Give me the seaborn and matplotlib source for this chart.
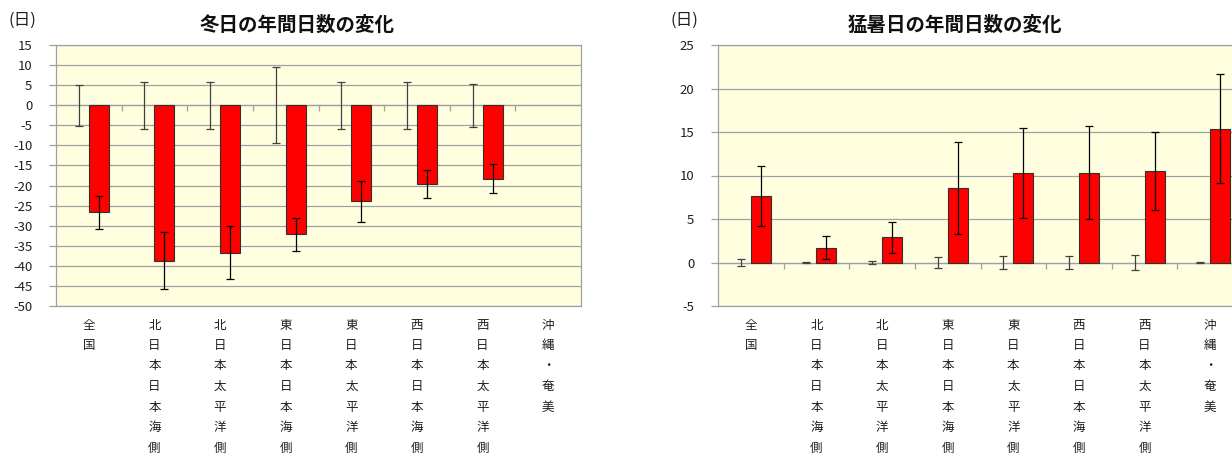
import numpy as np
import pandas as pd
import matplotlib
matplotlib.use("Agg")
import matplotlib.pyplot as plt
import seaborn as sns

# 地域区分
regions = ["全国", "北日本日本海側", "北日本太平洋側", "東日本日本海側",
           "東日本太平洋側", "西日本日本海側", "西日本太平洋側", "沖縄・奄美"]
series_names = ["年々変動", "将来変化"]

# 冬日の年間日数の変化（日）
winter_change = [-26.7, -38.7, -36.7, -32.1, -23.9, -19.6, -18.3, np.nan]
winter_change_err = [4.2, 7.1, 6.7, 4.1, 5.1, 3.4, 3.6, np.nan]
winter_var = [0, 0, 0, 0, 0, 0, 0, np.nan]
winter_var_err = [5.1, 5.9, 5.9, 9.5, 5.9, 5.9, 5.4, np.nan]

# 猛暑日の年間日数の変化（日）
hot_change = [7.6, 1.7, 2.9, 8.6, 10.3, 10.3, 10.5, 15.4]
hot_change_err = [3.45, 1.35, 1.8, 5.3, 5.2, 5.35, 4.5, 6.3]
hot_var = [0, 0, 0, 0, 0, 0, 0, 0]
hot_var_err = [0.45, 0.1, 0.15, 0.65, 0.8, 0.7, 0.9, 0.05]

winter_ticks = list(range(-50, 16, 5))
hot_ticks = list(range(-5, 26, 5))

sns.set_theme(style="white")
plt.rcParams["font.family"] = ["Noto Sans CJK JP", "DejaVu Sans"]

W, H = 1232, 458
fig = plt.figure(figsize=(W / 100, H / 100), dpi=100)

GRID = "#A0A0A0"
FACE = "#FFFFDF"
RED = "#FF0000"


def build_frame(var, change):
    rows = []
    for r, v, c in zip(regions, var, change):
        rows.append({"地域": r, "系列": series_names[0], "値": v})
        rows.append({"地域": r, "系列": series_names[1], "値": c})
    return pd.DataFrame(rows)


def draw_panel(rect, var, var_err, change, change_err, ticks, title, title_x):
    ax = fig.add_axes(rect)
    ax.set_facecolor(FACE)
    df = build_frame(var, change)
    sns.barplot(data=df, x="地域", y="値", hue="系列", hue_order=series_names,
                order=regions, palette={series_names[0]: "white", series_names[1]: RED},
                saturation=1, width=0.61, edgecolor="#303030", linewidth=0.8,
                errorbar=None, legend=False, ax=ax, zorder=3)

    errs = [var_err, change_err]
    ecolors = ["#404040", "#000000"]
    for k, cont in enumerate(ax.containers[:2]):
        xs, ys, es = [], [], []
        for p in cont.patches:
            xc = p.get_x() + p.get_width() / 2
            idx = int(round(xc))
            h = p.get_height()
            if k == 0:
                p.set_visible(False)
            if np.isnan(h) or np.isnan(errs[k][idx]):
                continue
            xs.append(xc)
            ys.append(h)
            es.append(errs[k][idx])
        ax.errorbar(xs, ys, yerr=es, fmt="none", ecolor=ecolors[k],
                    elinewidth=0.9, capsize=2.6, capthick=0.9, zorder=4)

    ymin, ymax = ticks[0], ticks[-1]
    ax.set_ylim(ymin, ymax)
    ax.set_xlim(-0.5, len(regions) - 0.5)
    ax.set_yticks(ticks)
    ax.set_yticklabels([str(t) for t in ticks])
    ax.yaxis.grid(True, color=GRID, linewidth=0.9, zorder=0)
    ax.set_axisbelow(True)
    ax.tick_params(axis="y", length=5, width=0.9, color=GRID, pad=12,
                   labelsize=9.5, labelcolor="#202020", direction="out", left=True)
    ax.set_xticks(range(len(regions)))
    ax.set_xticklabels(["\n".join(r) for r in regions], linespacing=1.75)
    ax.tick_params(axis="x", length=0, pad=9, labelsize=9, labelcolor="#202020")
    for lbl in ax.get_xticklabels():
        lbl.set_verticalalignment("top")
    ax.set_xlabel("")
    ax.set_ylabel("")
    for s in ax.spines.values():
        s.set_color(GRID)
        s.set_linewidth(0.9)

    # 値 0 の位置に横軸と区切り目盛りを置く
    sec = ax.secondary_xaxis(0, transform=ax.transData)
    sec.set_xticks(np.arange(1, len(regions)) - 0.5)
    sec.tick_params(axis="x", direction="out", length=4, width=0.9, color=GRID,
                    labelbottom=False, labeltop=False)
    for s in sec.spines.values():
        s.set_color(GRID)
        s.set_linewidth(0.9)

    fig.text(title_x, 1 - 25 / H, title, ha="center", va="center",
             fontsize=14, fontweight="bold", color="#101010")
    fig.text(rect[0] - 34 / W, 1 - 20 / H, "(日)", ha="center", va="center",
             fontsize=12, color="#202020")
    return ax


ax_h = 261 / H
ax_b = 1 - 306 / H
ax_w = 525 / W

draw_panel([56 / W, ax_b, ax_w, ax_h], winter_var, winter_var_err,
           winter_change, winter_change_err, winter_ticks,
           "冬日の年間日数の変化", 297 / W)
draw_panel([718 / W, ax_b, ax_w, ax_h], hot_var, hot_var_err,
           hot_change, hot_change_err, hot_ticks,
           "猛暑日の年間日数の変化", 955 / W)

fig.savefig("out.png", dpi=100, facecolor="white")
